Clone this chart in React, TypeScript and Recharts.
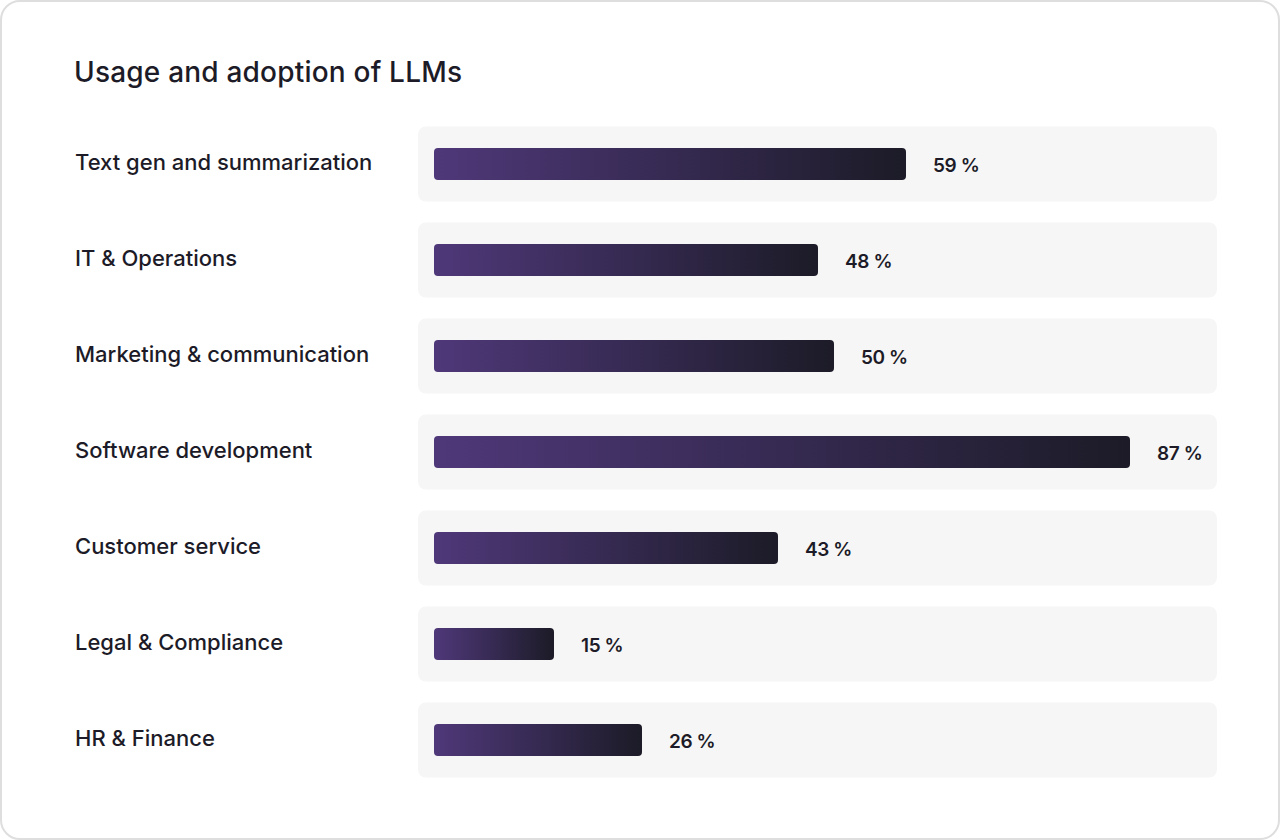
import { BarChart, Bar, XAxis, YAxis, LabelList } from 'recharts';

const categories = [
  'Text gen and summarization',
  'IT & Operations',
  'Marketing & communication',
  'Software development',
  'Customer service',
  'Legal & Compliance',
  'HR & Finance',
];
const adoption = [59, 48, 50, 87, 43, 15, 26];

const data = categories.map((name, i) => ({ name, value: adoption[i] }));

const FONT = 'Inter, "Noto Sans", sans-serif';
const INK = '#1c1b27';

const CategoryTick = (props: any) => {
  const { y, payload } = props;
  return (
    <text
      x={75}
      y={y - 2}
      dy="0.35em"
      textAnchor="start"
      fontSize={22}
      fontWeight={500}
      fill={INK}
      fontFamily={FONT}
    >
      {payload.value}
    </text>
  );
};

// grey row panel behind each bar
const RowPanel = (props: any) => {
  const { x, y, height, width } = props;
  const cy = y + height / 2;
  return <rect x={x - 16} y={cy - 37.5} width={width - 1} height={75} rx={8} ry={8} fill="#f6f6f6" />;
};

const ValueLabel = (props: any) => {
  const { x, y, width, height, value } = props;
  return (
    <text
      x={x + width + 27}
      y={y + height / 2 + 1}
      dy="0.35em"
      fontSize={19}
      fontWeight={600}
      letterSpacing={-0.4}
      fill={INK}
      fontFamily={FONT}
    >
      {value} %
    </text>
  );
};

export default function App() {
  return (
    <div
      style={{
        position: 'fixed',
        left: 0,
        top: 0,
        width: 1280,
        height: 840,
        background: '#fff',
        boxSizing: 'border-box',
        border: '2px solid #dedede',
        borderRadius: 20,
        overflow: 'hidden',
        fontFamily: FONT,
      }}
    >
      <div
        style={{
          position: 'absolute',
          left: 72,
          top: 52,
          fontSize: 28,
          fontWeight: 500,
          letterSpacing: 0.2,
          color: INK,
          lineHeight: '36px',
        }}
      >
        Usage and adoption of LLMs
      </div>
      <div style={{ position: 'absolute', left: -2, top: -2 }}>
        <BarChart
          width={1280}
          height={840}
          data={data}
          layout="vertical"
          margin={{ top: 116, right: 46, bottom: 52, left: 75 }}
        >
          <defs>
            <linearGradient id="barGrad" x1="0" y1="0" x2="1" y2="0">
              <stop offset="0%" stopColor="#4f3879" />
              <stop offset="50%" stopColor="#362a52" />
              <stop offset="100%" stopColor="#1c1b27" />
            </linearGradient>
          </defs>
          <XAxis type="number" domain={[0, 100]} hide />
          <YAxis
            type="category"
            dataKey="name"
            width={359}
            axisLine={false}
            tickLine={false}
            tick={<CategoryTick />}
          />
          <Bar
            dataKey="value"
            barSize={32}
            fill="url(#barGrad)"
            radius={4}
            background={<RowPanel />}
            isAnimationActive={false}
          >
            <LabelList dataKey="value" content={<ValueLabel />} />
          </Bar>
        </BarChart>
      </div>
    </div>
  );
}
